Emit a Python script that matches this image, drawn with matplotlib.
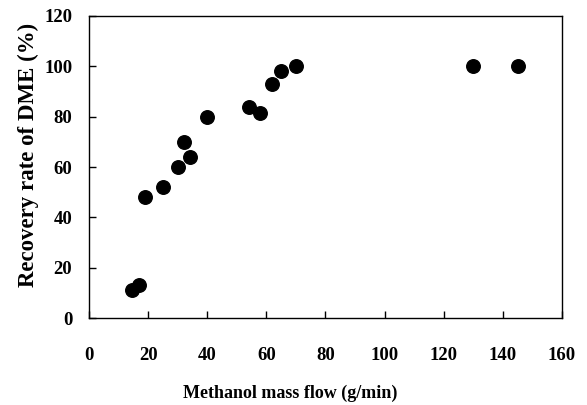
import numpy as np
import matplotlib.pyplot as plt

# methanol mass flow (g/min) vs DME recovery rate (%)
flow = [14.5, 17, 19, 25, 30, 32, 34, 40, 54, 58, 62, 65, 70, 130, 145]
recovery = [11, 13, 48, 52, 60, 70, 64, 80, 84, 81.5, 93, 98, 100, 100, 100]

xticks = [0, 20, 40, 60, 80, 100, 120, 140, 160]
yticks = [0, 20, 40, 60, 80, 100, 120]

plt.rcParams['font.family'] = ['Liberation Serif', 'DejaVu Serif']
plt.rcParams['font.weight'] = 'bold'

fig = plt.figure(figsize=(5.87, 4.05), dpi=100)
ax = fig.add_axes([0.1516, 0.2148, 0.8058, 0.7457])

ax.scatter(flow, recovery, s=95, color='black', zorder=3)

ax.set_xlim(0, 160)
ax.set_ylim(0, 120)
ax.set_xticks(xticks)
ax.set_yticks(yticks)
ax.tick_params(axis='x', direction='in', length=5, width=1, pad=21, labelsize=13.5)
ax.tick_params(axis='y', direction='in', length=5, width=1, pad=12, labelsize=13.5)
for sp in ax.spines.values():
    sp.set_linewidth(1)

ax.set_xlabel('Methanol mass flow (g/min)', fontsize=13, fontweight='bold')
ax.set_ylabel('Recovery rate of DME (%)', fontsize=16.5, fontweight='bold')
ax.xaxis.set_label_coords(0.425, -0.222)
ax.yaxis.set_label_coords(-0.105, 0.54)

fig.savefig('out.png', dpi=100)
